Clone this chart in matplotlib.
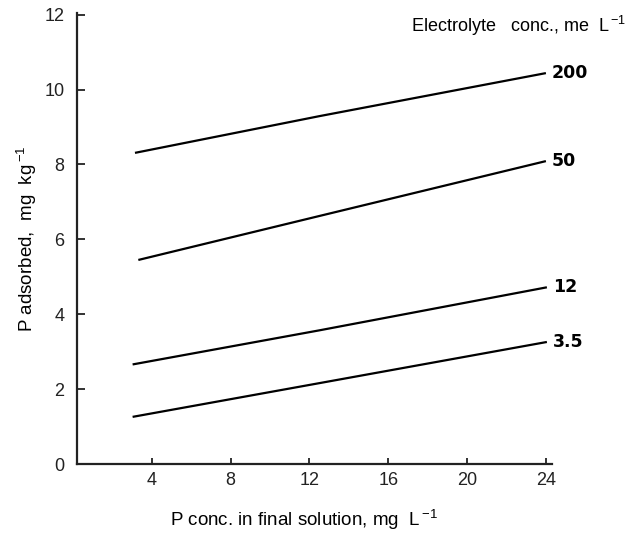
import matplotlib.pyplot as plt

plt.rcParams['font.family'] = ['Liberation Sans', 'DejaVu Sans']
plt.rcParams['mathtext.fontset'] = 'custom'
plt.rcParams['mathtext.rm'] = 'Liberation Sans'

# electrolyte concentrations (me/L) and the line
conc_labels = ['200', '50', '12', '3.5']
x_200 = [3.15, 12.5, 24.0]
y_200 = [8.31, 9.29, 10.44]
x_50 = [3.32, 12.55, 24.0]
y_50 = [5.45, 6.63, 8.09]
x_12 = [3.03, 12.5, 24.05]
y_12 = [2.66, 3.57, 4.72]
x_35 = [3.03, 12.5, 24.05]
y_35 = [1.26, 2.16, 3.26]

series = [(x_200, y_200), (x_50, y_50), (x_12, y_12), (x_35, y_35)]

fig = plt.figure(figsize=(6.35, 5.34), dpi=100)
ax = fig.add_axes([0.121, 0.131, 0.748, 0.845])

for (xs, ys), lab in zip(series, conc_labels):
    ax.plot(xs, ys, color='black', lw=1.6, solid_capstyle='butt')
    ax.text(xs[-1] + 0.3, ys[-1], lab, fontsize=12.5, fontweight='bold',
            ha='left', va='center', family='DejaVu Sans')

ax.set_xlim(0.2, 24.3)
ax.set_ylim(0, 12.05)
ax.set_xticks([4, 8, 12, 16, 20, 24])
ax.set_yticks([0, 2, 4, 6, 8, 10, 12])
ax.tick_params(direction='in', labelsize=13, width=1.3, colors='#222222')
ax.tick_params(axis='x', length=4, pad=6)
ax.tick_params(axis='y', length=6, pad=9)
ax.spines['top'].set_visible(False)
ax.spines['right'].set_visible(False)
for s in ('left', 'bottom'):
    ax.spines[s].set_linewidth(1.6)
    ax.spines[s].set_color('#222222')

ax.set_xlabel(r'P conc. in final solution, mg  L$^{\,\mathregular{-1}}$', fontsize=13.5)
ax.xaxis.set_label_coords(0.478, -0.095)
ax.set_ylabel(r'P adsorbed,  mg  kg$^{\,\mathregular{-1}}$', fontsize=13.5, labelpad=4)
fig.text(0.648, 0.952, r'Electrolyte   conc., me  L$^{\,\mathregular{-1}}$', fontsize=13,
         ha='left', va='center')

fig.savefig('out.png', dpi=100)
